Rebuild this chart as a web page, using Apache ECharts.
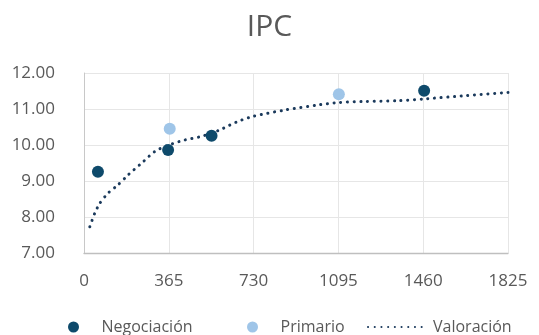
<!DOCTYPE html>
<html><head><meta charset="utf-8">
<script src="https://cdn.jsdelivr.net/npm/echarts@6/dist/echarts.min.js"></script>
<style>html,body{margin:0;padding:0;background:#fff}#c{width:539px;height:335px}</style>
</head><body><div id="c"></div>
<script>
const title = 'IPC';
const xTicks = [0, 365, 730, 1095, 1460, 1825];
const negociacion = [[60, 9.26], [362, 9.86], [549, 10.26], [1464, 11.51]];
const primario = [[369, 10.45], [1097, 11.41]];
const valoracion = [[25, 7.73], [46, 8.10], [68, 8.38], [103, 8.66], [146, 8.89], [190, 9.17], [247, 9.49],
  [305, 9.82], [365, 10.0], [434, 10.14], [506, 10.24], [585, 10.42], [657, 10.64], [730, 10.80],
  [872, 10.98], [1016, 11.12], [1095, 11.18], [1215, 11.21], [1353, 11.23], [1464, 11.28], [1641, 11.37], [1825, 11.46]];
const names = ['Negociación', 'Primario', 'Valoración'];
const font = '"Open Sans", "Noto Sans", sans-serif';
const txt = '#595959';
const chart = echarts.init(document.getElementById('c'), null, {renderer: 'canvas'});
const legendBase = {
  orient: 'horizontal', top: 314, itemWidth: 46, itemHeight: 11, itemGap: 0,
  textStyle: {fontFamily: font, fontSize: 16, color: txt}
};
chart.setOption({
  animation: false,
  title: {text: title, left: 'center', top: 7, textStyle: {fontFamily: font, fontSize: 30, fontWeight: 'normal', color: txt}},
  grid: {left: 84, right: 31, top: 73, bottom: 82},
  legend: [
    Object.assign({}, legendBase, {left: 63, data: [{name: names[0], icon: 'circle'}]}),
    Object.assign({}, legendBase, {left: 242, data: [{name: names[1], icon: 'circle'}]}),
    Object.assign({}, legendBase, {left: 362, itemWidth: 60, data: [{name: names[2], itemStyle: {opacity: 0}}]})
  ],
  xAxis: {
    type: 'value', min: xTicks[0], max: xTicks[xTicks.length - 1], interval: 365,
    axisLine: {show: true, lineStyle: {color: '#bfbfbf', width: 1.3}},
    axisTick: {show: false},
    axisLabel: {fontFamily: font, fontSize: 17, color: txt, margin: 20, formatter: v => String(v)},
    splitLine: {show: true, lineStyle: {color: '#e6e6e6', width: 1}}
  },
  yAxis: {
    type: 'value', min: 7, max: 12, interval: 1,
    axisLine: {show: true, lineStyle: {color: '#c8c8c8', width: 1}},
    axisTick: {show: false},
    axisLabel: {fontFamily: font, fontSize: 17, color: txt, margin: 29, formatter: v => v.toFixed(2)},
    splitLine: {show: true, lineStyle: {color: '#e6e6e6', width: 1}}
  },
  series: [
    {name: names[2], type: 'line', data: valoracion, smooth: 0.25, showSymbol: false, symbol: 'none',
     lineStyle: {color: '#1b3a5c', width: 3, type: [0.1, 6.6], cap: 'round'}, itemStyle: {color: '#1b3a5c'}, z: 2},
    {name: names[0], type: 'scatter', data: negociacion, symbolSize: 12, itemStyle: {color: '#0e4a6b', opacity: 1}, z: 3},
    {name: names[1], type: 'scatter', data: primario, symbolSize: 12, itemStyle: {color: '#9fc5e8', opacity: 1}, z: 3}
  ]
});
</script></body></html>
